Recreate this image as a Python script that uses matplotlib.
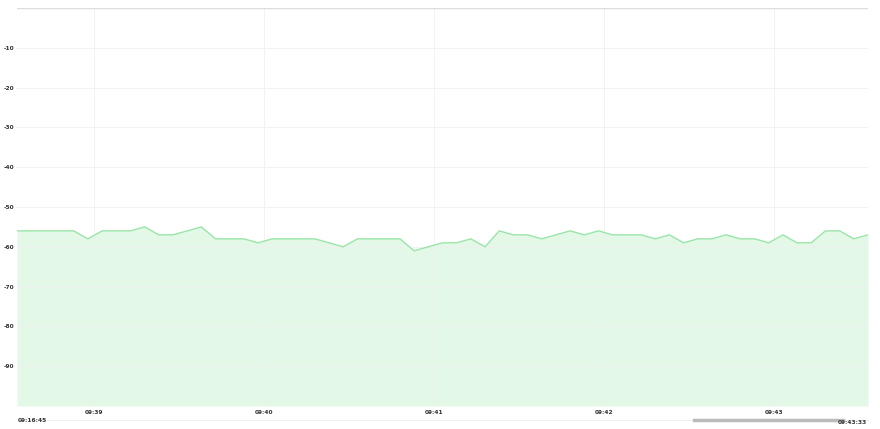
import matplotlib
matplotlib.use("Agg")
import matplotlib.pyplot as plt
import pandas as pd


START = "2024-01-01 09:38:33"
STEP = "5s"

# signal level readings, one every 5 seconds
signal = [
    -56, -56, -56, -56, -56, -58, -56, -56, -56, -55,
    -57, -57, -56, -55, -58, -58, -58, -59, -58, -58,
    -58, -58, -59, -60, -58, -58, -58, -58, -61, -60,
    -59, -59, -58, -60, -56, -57, -57, -58, -57, -56,
    -57, -56, -57, -57, -57, -58, -57, -59, -58, -58,
    -57, -58, -58, -59, -57, -59, -59, -56, -56, -58,
    -57,
]
y_ticks = [-10, -20, -30, -40, -50, -60, -70, -80, -90]
x_ticks = ["09:39", "09:40", "09:41", "09:42", "09:43"]
nav_start = "09:16:45"
nav_end = "09:43:33"

times = pd.date_range(START, periods=len(signal), freq=STEP)

fig = plt.figure(figsize=(8.8, 4.29), dpi=100)
ax = fig.add_axes([17 / 880, 1 - 406 / 429, 851 / 880, 398 / 429])

ax.fill_between(times, signal, -100, color="#e3f8e7", lw=0)
ax.plot(times, signal, color="#98e5a8", lw=1.0)

ax.set_xlim(times[0], times[-1])
ax.set_ylim(-100, 0)

ax.set_yticks(y_ticks)
ax.set_yticklabels([str(v) for v in y_ticks])
tick_pos = [pd.Timestamp("2024-01-01 " + t) for t in x_ticks]
ax.set_xticks(tick_pos)
ax.set_xticklabels(x_ticks)

ax.tick_params(axis="both", length=0, labelsize=4.2, labelcolor="#333333")
ax.tick_params(axis="y", pad=2)
ax.tick_params(axis="x", pad=3)
for lab in ax.get_xticklabels() + ax.get_yticklabels():
    lab.set_fontweight("bold")

ax.grid(True, color="#f0f0f0", lw=0.6)
ax.axhline(0, color="#dddddd", lw=1.0)
ax.axhline(-100, color="#eaeaea", lw=0.8)
for side in ax.spines.values():
    side.set_visible(False)

# navigator strip under the chart
fig.add_artist(plt.Line2D([18 / 880, 868 / 880], [1 - 420 / 429] * 2,
                          color="#eeeeee", lw=0.6))
fig.add_artist(plt.Line2D([694 / 880, 843 / 880], [1 - 420 / 429] * 2,
                          color="#bbbbbb", lw=2.5))
fig.text(18 / 880, 1 - 421 / 429, nav_start, fontsize=4.2, fontweight="bold",
         color="#333333", va="center", ha="left")
fig.text(867 / 880, 1 - 423 / 429, nav_end, fontsize=4.2, fontweight="bold",
         color="#333333", va="center", ha="right")

fig.savefig("out.png", dpi=100)
